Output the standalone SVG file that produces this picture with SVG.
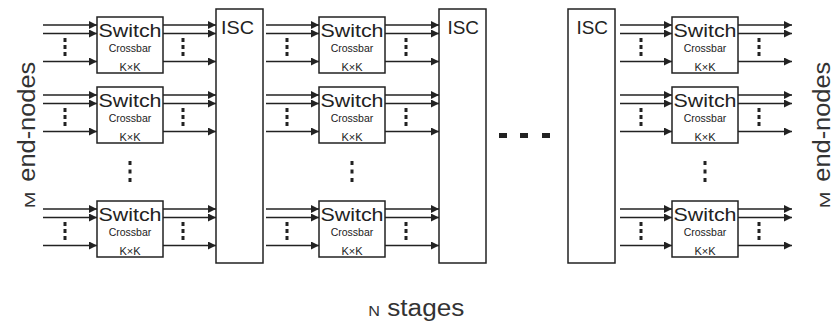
<svg xmlns="http://www.w3.org/2000/svg" width="836" height="324" viewBox="0 0 836 324">
<style>
.box{fill:#fff;stroke:#222;stroke-width:1.5}
.ln{stroke:#222;stroke-width:1.5;fill:none;marker-end:url(#ah)}
.dot{stroke:#222;stroke-width:3;stroke-dasharray:4 3;fill:none}
.vdot{stroke:#222;stroke-width:3;stroke-dasharray:4 4.5;fill:none}
.t{font-family:"Liberation Sans",Arial,sans-serif;fill:#222}
.sw{font-size:18px;text-anchor:middle}
.cb{font-size:10.5px;text-anchor:middle}
.kk{font-size:11px;text-anchor:middle}
.isc{font-size:18px}
.big{font-size:23px;fill:#333}
.sm{font-size:14px;fill:#333}
</style>
<defs>
<marker id="ah" markerUnits="userSpaceOnUse" markerWidth="9" markerHeight="9" refX="8" refY="4" orient="auto">
<path d="M0,0 L8,4 L0,8 z" fill="#222"/>
</marker>
<g id="swbody">
<rect class="box" x="0" y="0" width="66" height="56"/>
<text class="t sw" x="33" y="19.7" textLength="63" lengthAdjust="spacingAndGlyphs">Switch</text>
<text class="t cb" x="33" y="34.7">Crossbar</text>
<text class="t kk" x="33" y="54.3">K×K</text>
</g>
</defs>

<g id="connectors">
<path class="ln" d="M43,25H97"/><path class="ln" d="M43,33.5H97"/><path class="ln" d="M43,61.5H97"/>
<path class="ln" d="M43,95H97"/><path class="ln" d="M43,103.5H97"/><path class="ln" d="M43,131.5H97"/>
<path class="ln" d="M43,209H97"/><path class="ln" d="M43,217.5H97"/><path class="ln" d="M43,245.5H97"/>
<path class="ln" d="M163,25H216"/><path class="ln" d="M163,33.5H216"/><path class="ln" d="M163,61.5H216"/>
<path class="ln" d="M163,95H216"/><path class="ln" d="M163,103.5H216"/><path class="ln" d="M163,131.5H216"/>
<path class="ln" d="M163,209H216"/><path class="ln" d="M163,217.5H216"/><path class="ln" d="M163,245.5H216"/>
<path class="ln" d="M266,25H319"/><path class="ln" d="M266,33.5H319"/><path class="ln" d="M266,61.5H319"/>
<path class="ln" d="M266,95H319"/><path class="ln" d="M266,103.5H319"/><path class="ln" d="M266,131.5H319"/>
<path class="ln" d="M266,209H319"/><path class="ln" d="M266,217.5H319"/><path class="ln" d="M266,245.5H319"/>
<path class="ln" d="M385,25H439"/><path class="ln" d="M385,33.5H439"/><path class="ln" d="M385,61.5H439"/>
<path class="ln" d="M385,95H439"/><path class="ln" d="M385,103.5H439"/><path class="ln" d="M385,131.5H439"/>
<path class="ln" d="M385,209H439"/><path class="ln" d="M385,217.5H439"/><path class="ln" d="M385,245.5H439"/>
<path class="ln" d="M620,25H672"/><path class="ln" d="M620,33.5H672"/><path class="ln" d="M620,61.5H672"/>
<path class="ln" d="M620,95H672"/><path class="ln" d="M620,103.5H672"/><path class="ln" d="M620,131.5H672"/>
<path class="ln" d="M620,209H672"/><path class="ln" d="M620,217.5H672"/><path class="ln" d="M620,245.5H672"/>
<path class="ln" d="M738,25H792"/><path class="ln" d="M738,33.5H792"/><path class="ln" d="M738,61.5H792"/>
<path class="ln" d="M738,95H792"/><path class="ln" d="M738,103.5H792"/><path class="ln" d="M738,131.5H792"/>
<path class="ln" d="M738,209H792"/><path class="ln" d="M738,217.5H792"/><path class="ln" d="M738,245.5H792"/>
<path class="dot" d="M65,38V57M183,38V57M287,38V57M406,38V57M641,38V57M759,38V57"/>
<path class="dot" d="M65,108V127M183,108V127M287,108V127M406,108V127M641,108V127M759,108V127"/>
<path class="dot" d="M65,222V241M183,222V241M287,222V241M406,222V241M641,222V241M759,222V241"/>
<path class="vdot" d="M130,161V185M352,161V185M705,161V185"/>
<g fill="#222">
<rect x="499" y="133" width="8" height="5"/>
<rect x="520" y="133" width="8" height="5"/>
<rect x="542" y="133" width="8" height="5"/>
</g>
</g>

<g id="sw-1-1"><use href="#swbody" x="97" y="17"/></g>
<g id="sw-1-2"><use href="#swbody" x="97" y="87"/></g>
<g id="sw-1-3"><use href="#swbody" x="97" y="201"/></g>
<g id="sw-2-1"><use href="#swbody" x="319" y="17"/></g>
<g id="sw-2-2"><use href="#swbody" x="319" y="87"/></g>
<g id="sw-2-3"><use href="#swbody" x="319" y="201"/></g>
<g id="sw-3-1"><use href="#swbody" x="672" y="17"/></g>
<g id="sw-3-2"><use href="#swbody" x="672" y="87"/></g>
<g id="sw-3-3"><use href="#swbody" x="672" y="201"/></g>

<g id="isc-1"><rect class="box" x="216" y="9" width="47" height="254"/><text class="t isc" x="221" y="34.3" textLength="33" lengthAdjust="spacingAndGlyphs">ISC</text></g>
<g id="isc-2"><rect class="box" x="439" y="9" width="47" height="254"/><text class="t isc" x="447.5" y="34.3" textLength="31.5" lengthAdjust="spacingAndGlyphs">ISC</text></g>
<g id="isc-3"><rect class="box" x="568" y="9" width="47" height="254"/><text class="t isc" x="576.5" y="34.3" textLength="31.5" lengthAdjust="spacingAndGlyphs">ISC</text></g>

<g id="label-left" transform="translate(35,208.3) rotate(-90)">
<text class="t sm" x="0" y="0" textLength="16.6" lengthAdjust="spacingAndGlyphs">M</text>
<text class="t big" x="26.6" y="0" textLength="120" lengthAdjust="spacingAndGlyphs">end-nodes</text>
</g>
<g id="label-right" transform="translate(830,208.3) rotate(-90)">
<text class="t sm" x="0" y="0" textLength="16.6" lengthAdjust="spacingAndGlyphs">M</text>
<text class="t big" x="26.6" y="0" textLength="120" lengthAdjust="spacingAndGlyphs">end-nodes</text>
</g>
<g id="label-bottom">
<text class="t sm" x="368.3" y="316" textLength="11.7" lengthAdjust="spacingAndGlyphs">N</text>
<text class="t big" x="387.3" y="316" textLength="77" lengthAdjust="spacingAndGlyphs">stages</text>
</g>
</svg>
